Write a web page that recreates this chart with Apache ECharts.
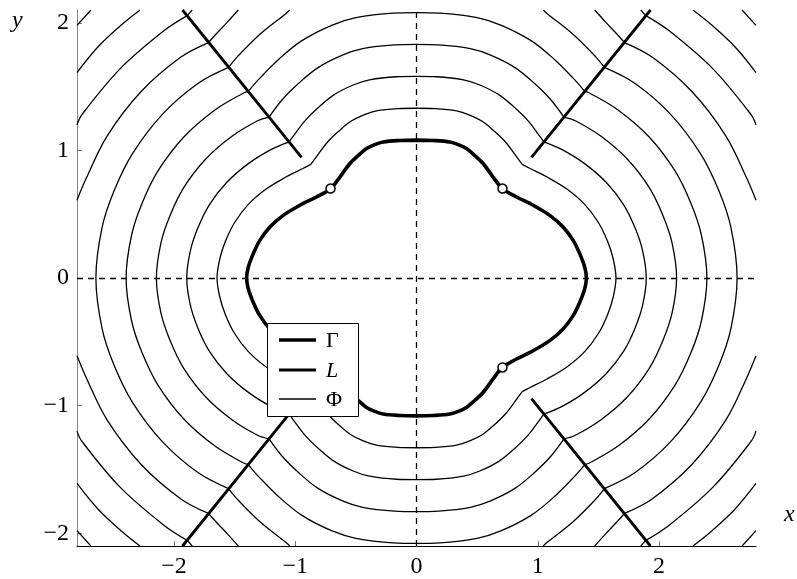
<!DOCTYPE html>
<html>
<head>
<meta charset="utf-8">
<script src="https://cdn.jsdelivr.net/npm/echarts@6/dist/echarts.min.js"></script>
<style>html,body{margin:0;padding:0;background:#fff;}</style>
</head>
<body>
<div id="main" style="width:797px;height:579px;"></div>
<script>
// tick labels
var xTicks = [-2, -1, 0, 1, 2];
var yTicks = [-2, -1, 0, 1, 2];

// Gamma, first quadrant, from the y axis down to the x axis (mirrored for the others)
var gammaQ1 = [[0,1.08],[0.14,1.077],[0.275,1.066],[0.345,1.045],[0.412,1.014],[0.48,0.96],[0.549,0.897],
  [0.632,0.791],[0.709,0.701],[0.825,0.635],[0.962,0.57],[1.099,0.491],
  [1.209,0.40],[1.292,0.295],[1.346,0.191],[1.387,0.086],[1.401,0]];

// the L ray in the first quadrant
var lineLQ1 = [[0.948,0.946],[1.93,2.1]];

// marked points on Gamma
var markQ1 = [[0.709,0.701]];

// level lines Phi, first quadrant: upper pieces (y axis or top edge -> L)
var phiUpper = [
  [[0,1.33],[0.153,1.327],[0.331,1.31],[0.434,1.279],[0.545,1.226],[0.642,1.15],[0.735,1.064],[0.826,0.949],[0.872,0.89]],
  [[0,1.58],[0.166,1.577],[0.3875,1.553],[0.5225,1.5125],[0.6785,1.437],[0.8045,1.34],[0.9205,1.2315],[1.0195,1.107],[1.05,1.067]],
  [[0,1.83],[0.179,1.826],[0.444,1.7965],[0.611,1.746],[0.812,1.6485],[0.967,1.53],[1.106,1.399],[1.216,1.261]],
  [[0,2.08],[0.192,2.076],[0.5,2.04],[0.70,1.98],[0.945,1.86],[1.129,1.72],[1.292,1.566],[1.39,1.46]],
  [[1.045,2.1],[1.078,2.0715],[1.291,1.91],[1.478,1.733],[1.55,1.65]],
  [[1.47,2.1],[1.56,2.005],[1.6635,1.9005],[1.715,1.845]],
  [[1.85,2.1],[1.888,2.058]]
];
// right pieces (L or top edge -> x axis or right edge)
var phiRight = [
  [[0.872,0.89],[0.937,0.858],[1.077,0.791],[1.24,0.697],[1.387,0.577],[1.50,0.435],[1.575,0.289],[1.622,0.151],[1.645,0]],
  [[1.05,1.067],[1.193,1.01],[1.381,0.9],[1.564,0.75],[1.71,0.571],[1.805,0.387],[1.865,0.213],[1.895,0]],
  [[1.216,1.261],[1.31,1.232],[1.522,1.11],[1.74,0.93],[1.921,0.706],[2.034,0.486],[2.108,0.274],[2.145,0]],
  [[1.39,1.46],[1.426,1.45],[1.662,1.317],[1.917,1.107],[2.131,0.841],[2.264,0.584],[2.35,0.335],[2.395,0]],
  [[1.55,1.65],[1.803,1.524],[2.094,1.284],[2.341,0.976],[2.494,0.683],[2.593,0.396],[2.644,0]],
  [[1.715,1.845],[1.943,1.731],[2.271,1.461],[2.552,1.112],[2.724,0.781],[2.8,0.61]],
  [[1.888,2.058],[2.084,1.937],[2.447,1.637],[2.762,1.277],[2.8,1.2]],
  [[2.28,2.1],[2.425,1.99],[2.624,1.814],[2.8,1.61]],
  [[2.685,2.1],[2.8,1.98]]
];

function flip(pts, sx, sy) {
  return pts.map(function (p) { return [p[0] * sx, p[1] * sy]; });
}

// pieces that touch an axis get joined with their mirror image across it
function pieces(pts, axis) {
  var last = pts[pts.length - 1], first = pts[0];
  if (axis === 'y' && first[0] === 0) {
    return [flip(pts, -1, 1).reverse().concat(pts.slice(1))];
  }
  if (axis === 'x' && last[1] === 0) {
    return [pts.concat(flip(pts, 1, -1).reverse().slice(1))];
  }
  return axis === 'y' ? [pts, flip(pts, -1, 1)] : [pts, flip(pts, 1, -1)];
}

var series = [];
var thin = { color: '#000', width: 1.3 };

phiUpper.forEach(function (u) {
  pieces(u, 'y').forEach(function (p) {
    [1, -1].forEach(function (sy) {
      series.push({ type: 'line', data: flip(p, 1, sy), smooth: 0.35, symbol: 'none', lineStyle: thin, silent: true });
    });
  });
});
phiRight.forEach(function (r) {
  pieces(r, 'x').forEach(function (p) {
    [1, -1].forEach(function (sx) {
      series.push({ type: 'line', data: flip(p, sx, 1), smooth: 0.35, symbol: 'none', lineStyle: thin, silent: true });
    });
  });
});

// closed Gamma
var gamma = gammaQ1
  .concat(flip(gammaQ1, 1, -1).reverse().slice(1))
  .concat(flip(gammaQ1, -1, -1).slice(1))
  .concat(flip(gammaQ1, -1, 1).reverse().slice(1));
series.push({ type: 'line', data: gamma, smooth: 0.35, symbol: 'none', silent: true,
  lineStyle: { color: '#000', width: 3.6 }, z: 4 });

[[1,1],[-1,1],[1,-1],[-1,-1]].forEach(function (s) {
  series.push({ type: 'line', data: flip(lineLQ1, s[0], s[1]), symbol: 'none', silent: true,
    lineStyle: { color: '#000', width: 2.8 }, z: 4 });
});

var marks = [];
[[1,1],[-1,1],[1,-1],[-1,-1]].forEach(function (s) { marks = marks.concat(flip(markQ1, s[0], s[1])); });
series.push({ type: 'scatter', data: marks, symbol: 'circle', symbolSize: 9, silent: true, z: 5,
  itemStyle: { color: '#fff', opacity: 1, borderColor: '#000', borderWidth: 1.5 } });

// dashed axes through the origin
series[0].markLine = {
  silent: true, symbol: ['none', 'none'], label: { show: false },
  lineStyle: { color: '#000', type: [6, 5], width: 1.3 },
  data: [{ xAxis: 0 }, { yAxis: 0 }]
};

var serif = "'Liberation Serif', 'Times New Roman', Times, serif";
function minus(v) { return String(v).replace('-', '\u2212'); }

var myChart = echarts.init(document.getElementById('main'));
var option = {
  animation: false,
  grid: { left: 77, right: 41, top: 10, bottom: 33 },
  xAxis: {
    type: 'value', min: -2.8, max: 2.8,
    axisLine: { onZero: false, lineStyle: { color: '#000', width: 1 } },
    axisTick: { inside: true, length: 5, customValues: xTicks, lineStyle: { color: '#777' } },
    axisLabel: { customValues: xTicks, formatter: minus, fontFamily: serif, fontSize: 24, color: '#000', margin: 9 },
    splitLine: { show: false }
  },
  yAxis: {
    type: 'value', min: -2.1, max: 2.1,
    axisLine: { onZero: false, lineStyle: { color: '#888', width: 1 } },
    axisTick: { inside: true, length: 5, customValues: yTicks, lineStyle: { color: '#777' } },
    axisLabel: { customValues: yTicks, formatter: minus, fontFamily: serif, fontSize: 24, color: '#000', margin: 8 },
    splitLine: { show: false }
  },
  graphic: [
    { type: 'text', left: 12, top: 9, style: { text: 'y', font: 'italic 24px ' + serif, fill: '#000' } },
    { type: 'text', left: 784, top: 503, style: { text: 'x', font: 'italic 24px ' + serif, fill: '#000' } },
    { type: 'rect', z: 100, shape: { x: 267.5, y: 323.5, width: 91, height: 93 },
      style: { fill: '#fff', stroke: '#000', lineWidth: 1 } },
    { type: 'line', z: 101, shape: { x1: 279, y1: 340, x2: 316, y2: 340 }, style: { stroke: '#000', lineWidth: 3.6 } },
    { type: 'line', z: 101, shape: { x1: 279, y1: 370, x2: 316, y2: 370 }, style: { stroke: '#000', lineWidth: 2.8 } },
    { type: 'line', z: 101, shape: { x1: 279, y1: 399, x2: 316, y2: 399 }, style: { stroke: '#000', lineWidth: 1.3 } },
    { type: 'text', z: 101, x: 326, y: 341, style: { text: 'Γ', font: '22px ' + serif, fill: '#000', verticalAlign: 'middle' } },
    { type: 'text', z: 101, x: 326, y: 371, style: { text: 'L', font: 'italic 22px ' + serif, fill: '#000', verticalAlign: 'middle' } },
    { type: 'text', z: 101, x: 326, y: 400, style: { text: 'Φ', font: '22px ' + serif, fill: '#000', verticalAlign: 'middle' } }
  ],
  series: series
};
myChart.setOption(option);
</script>
</body>
</html>
